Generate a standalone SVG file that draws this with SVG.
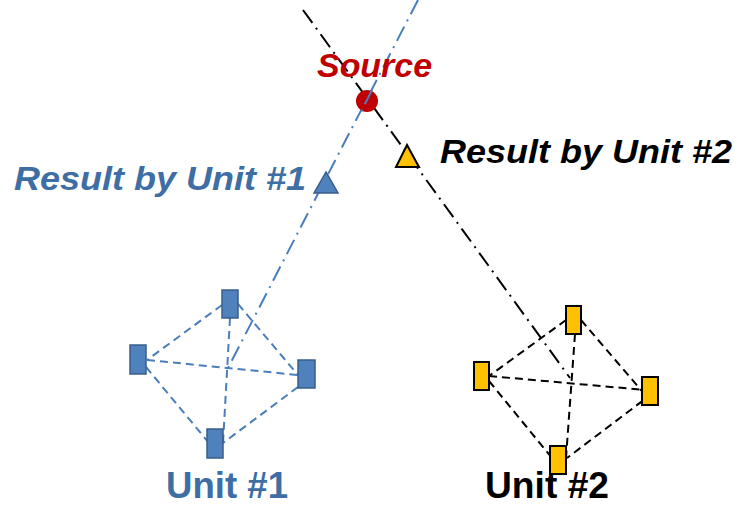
<svg xmlns="http://www.w3.org/2000/svg" width="735" height="506" viewBox="0 0 735 506">
<style>
.t{font-family:"Liberation Sans",Arial,sans-serif;font-weight:bold}
.it{font-style:italic}
.blue{fill:#3E6EA4}
.blk{fill:#000}
.bdash{stroke:#4A7EBB;stroke-width:2;stroke-dasharray:8 5;fill:none}
.kdash{stroke:#000;stroke-width:2;stroke-dasharray:8 5;fill:none}
.bdd{stroke:#4A7EBB;stroke-width:2;stroke-dasharray:16 6 2 6;fill:none}
.kdd{stroke:#000;stroke-width:2;stroke-dasharray:16 6 2 6;fill:none}
.brect{fill:#4F81BD;stroke:#385D8A;stroke-width:1.5}
.yrect{fill:#FFC000;stroke:#000;stroke-width:2}
</style>
<rect width="735" height="506" fill="#fff"/>
<g id="connectors">
<line class="bdd" x1="418" y1="0" x2="228" y2="368"/>
<line class="kdd" x1="303" y1="10" x2="570" y2="378"/>
<line class="bdash" x1="222" y1="305" x2="147" y2="360"/>
<line class="bdash" x1="147" y1="360" x2="298" y2="375"/>
<line class="bdash" x1="146" y1="367" x2="209" y2="443"/>
<line class="bdash" x1="230" y1="318" x2="223" y2="443"/>
<line class="bdash" x1="238" y1="304" x2="298" y2="375"/>
<line class="bdash" x1="298" y1="387" x2="223" y2="443"/>
<line class="kdash" x1="566" y1="320" x2="489" y2="376"/>
<line class="kdash" x1="489" y1="376" x2="645" y2="390"/>
<line class="kdash" x1="489" y1="381" x2="552" y2="458"/>
<line class="kdash" x1="575" y1="334" x2="566" y2="458"/>
<line class="kdash" x1="581" y1="320" x2="647" y2="397"/>
<line class="kdash" x1="653" y1="393" x2="567" y2="458"/>
</g>
<g id="source">
<circle cx="367" cy="101" r="11" fill="#C00000"/>
<line class="bdd" x1="372" y1="90" x2="361" y2="112"/>
<text class="t it" x="317" y="77" font-size="33" fill="#C00000" textLength="115" lengthAdjust="spacingAndGlyphs">Source</text>
</g>
<g id="result1">
<polygon points="326,172 314,193 338,193" fill="#4F81BD" stroke="#385D8A" stroke-width="1.5"/>
<text class="t it blue" x="14" y="190" font-size="33" textLength="292" lengthAdjust="spacingAndGlyphs">Result by Unit #1</text>
</g>
<g id="result2">
<polygon points="407,145 396,167 419,167" fill="#FFC000" stroke="#000" stroke-width="2"/>
<text class="t it blk" x="440" y="163" font-size="33" textLength="292" lengthAdjust="spacingAndGlyphs">Result by Unit #2</text>
</g>
<g id="unit1">
<rect class="brect" x="222" y="290" width="16" height="28"/>
<rect class="brect" x="130" y="345" width="16" height="29"/>
<rect class="brect" x="298" y="360" width="17" height="28"/>
<rect class="brect" x="207" y="429" width="16" height="29"/>
<text class="t blue" x="166" y="498" font-size="37" textLength="122" lengthAdjust="spacingAndGlyphs">Unit #1</text>
</g>
<g id="unit2">
<rect class="yrect" x="566" y="306" width="15" height="28"/>
<rect class="yrect" x="474" y="362" width="15" height="28"/>
<rect class="yrect" x="642" y="377" width="16" height="28"/>
<rect class="yrect" x="550" y="446" width="16" height="28"/>
<text class="t blk" x="485" y="498" font-size="37" textLength="124" lengthAdjust="spacingAndGlyphs">Unit #2</text>
</g>
</svg>
